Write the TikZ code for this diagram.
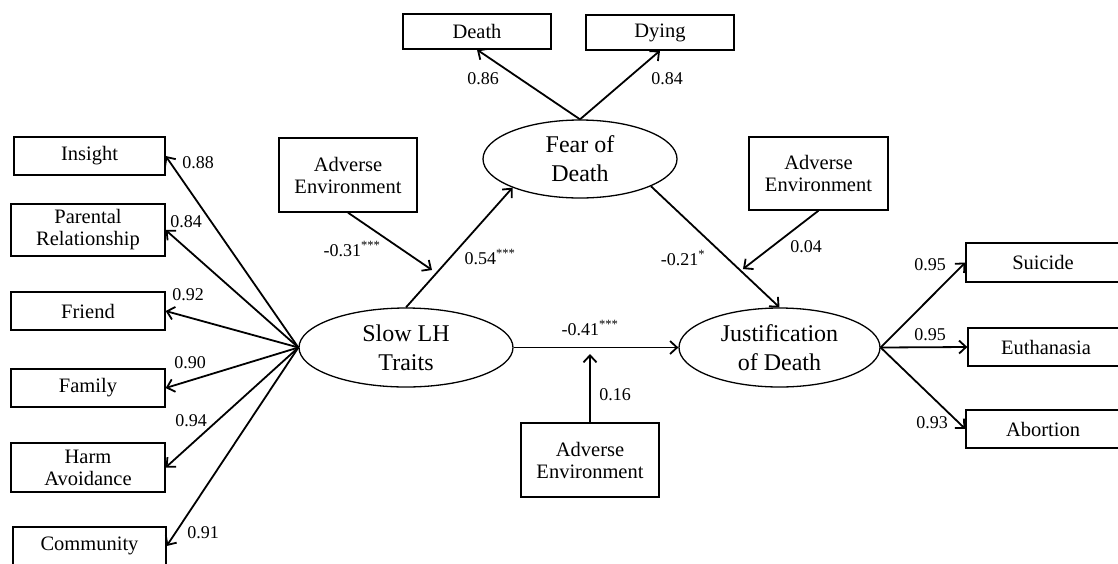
\documentclass[tikz,border=0pt]{standalone}
\usepackage{fontspec}
\setmainfont{Liberation Serif}
\usetikzlibrary{arrows.meta,shapes.geometric}
\begin{document}
\begin{tikzpicture}[x=1pt,y=-1pt,
  box/.style={draw,line width=1.3pt,inner sep=0pt,align=center,
    font=\fontsize{20.5}{22}\selectfont},
  latent/.style={draw,ellipse,line width=1.3pt,inner sep=0pt,align=center,
    font=\fontsize{24}{29}\selectfont},
  path/.style={line width=1.8pt,-{Straight Barb[length=7pt,width=13pt,line width=1.8pt]}},
  coef/.style={font=\fontsize{18}{20}\selectfont,inner sep=0pt}]
\useasboundingbox (0,0) rectangle (1118,563);
\clip (0,0) rectangle (1118,563);

% latent variables
\node[latent,minimum width=214pt,minimum height=79pt] (slow) at (406,347.5) {Slow LH\\Traits};
\node[latent,minimum width=194pt,minimum height=78pt] (fear) at (580,159) {Fear of\\Death};
\node[latent,minimum width=201pt,minimum height=79pt] (just) at (779.5,347.5) {Justification\\of Death};

% indicators of slow LH traits
\node[box,minimum width=151pt,minimum height=38pt] (insight) at (89.5,156) {Insight};
\node[box,minimum width=154pt,minimum height=52pt] (parent) at (88,230) {Parental\\Relationship};
\node[box,minimum width=154pt,minimum height=38pt] (friend) at (88,311) {Friend};
\node[box,minimum width=154pt,minimum height=38pt] (family) at (88,388) {Family};
\node[box,minimum width=154pt,minimum height=49pt] (harm) at (88,467.5) {Harm\\Avoidance};
\node[box,minimum width=153pt,minimum height=38pt] (community) at (89.5,546) {Community};

% indicators of fear of death
\node[box,minimum width=148pt,minimum height=35pt] (death) at (477,31.5) {Death};
\node[box,minimum width=148pt,minimum height=35pt] (dying) at (660,32.5) {Dying};

% indicators of justification of death
\node[box,minimum width=154pt,minimum height=39pt] (suicide) at (1043,262.5) {Suicide};
\node[box,minimum width=156pt,minimum height=38pt] (euth) at (1046,347) {Euthanasia};
\node[box,minimum width=154pt,minimum height=38pt] (abort) at (1043,429) {Abortion};

% moderators
\node[box,minimum width=138pt,minimum height=74pt] (adv1) at (348,175) {Adverse\\Environment};
\node[box,minimum width=139pt,minimum height=73pt] (adv2) at (818.5,173.5) {Adverse\\Environment};
\node[box,minimum width=138pt,minimum height=74pt] (adv3) at (590,460) {Adverse\\Environment};

% points where moderator arrows meet the structural paths
\coordinate (m1) at (432,270);
\coordinate (m2) at (743,269);
\coordinate (m3) at (590,354);

% measurement paths
\foreach \t in {insight,parent,friend,family,harm,community}
  \draw[path] (slow.west) -- (\t.east);
\draw[path] (fear.north) -- (death.south);
\draw[path] (fear.north) -- (dying.south);
\draw[path] (just.east) -- (suicide.west);
\draw[path] (just.east) -- (euth.west);
\draw[path] (just.east) -- (abort.west);

% structural paths
\draw[path] (slow.north) -- (fear.-157);
\draw[path] (fear.-21) -- (just.north);
\draw[path] (slow.east) -- (just.west);

% moderation paths
\draw[path] (adv1.south) -- (m1);
\draw[path] (adv2.south) -- (m2);
\draw[path] (adv3.north) -- (m3);

% loadings
\node[coef] (l1) at (198,163) {0.88};
\node[coef] (l2) at (186,222) {0.84};
\node[coef] (l3) at (188,295) {0.92};
\node[coef] (l4) at (190,363) {0.90};
\node[coef] (l5) at (191,421) {0.94};
\node[coef] (l6) at (203,533) {0.91};
\node[coef] (l7) at (483,79) {0.86};
\node[coef] (l8) at (667,79) {0.84};
\node[coef] (l9) at (930,265) {0.95};
\node[coef] (l10) at (930,335) {0.95};
\node[coef] (l11) at (932,423) {0.93};

% path coefficients
\node[coef] (c1) at (352,249) {-0.31\textsuperscript{***}};
\node[coef] (c2) at (490,257) {0.54\textsuperscript{***}};
\node[coef] (c3) at (683,258) {-0.21\textsuperscript{*}};
\node[coef] (c4) at (806,247) {0.04};
\node[coef] (c5) at (590,328) {-0.41\textsuperscript{***}};
\node[coef] (c6) at (615,395) {0.16};
\end{tikzpicture}
\end{document}
